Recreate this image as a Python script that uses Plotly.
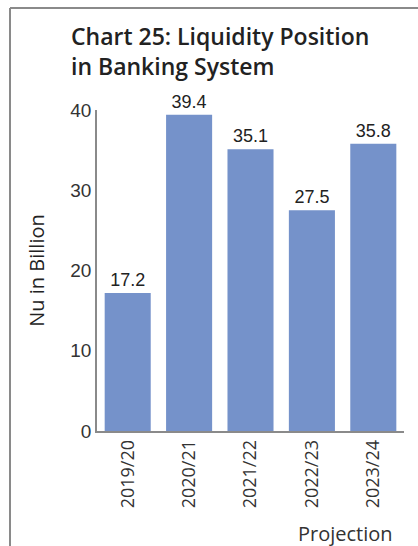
import plotly.graph_objects as go

categories = ["2019/20", "2020/21", "2021/22", "2022/23", "2023/24"]
liquidity = [17.2, 39.4, 35.1, 27.5, 35.8]
value_labels = ["17.2", "39.4", "35.1", "27.5", "35.8"]
y_ticks = [0, 10, 20, 30, 40]

W, H = 418, 546
L, R, T, B = 97, 14, 110, 115
pw, ph = W - L - R, H - T - B

def px_x(x):
    return (x - L) / pw

def px_y(y):
    return (H - B - y) / ph

fig = go.Figure()
fig.add_trace(go.Bar(
    x=categories, y=liquidity,
    text=value_labels, textposition="outside", cliponaxis=False,
    textfont=dict(family="Liberation Sans, Arial", size=18, color="#222222"),
    marker=dict(color="#7592CA", line=dict(width=0)),
    width=0.75,
))

fig.update_layout(
    width=W, height=H,
    margin=dict(l=L, r=R, t=T, b=B),
    paper_bgcolor="white", plot_bgcolor="white",
    showlegend=False,
    title=dict(
        text="Chart 25: Liquidity Position<br>in Banking System",
        x=71 / W, xref="container", xanchor="left",
        y=1 - 45 / H, yref="container", yanchor="top",
        font=dict(family="Open Sans", size=23, weight=600, color="#222222"),
    ),
    xaxis=dict(
        showline=True, linecolor="#8a8a8a", linewidth=1.5,
        tickangle=-90, ticks="", 
        tickfont=dict(family="Open Sans", size=18, color="#333333"),
        showgrid=False,
    ),
    yaxis=dict(
        range=[0, 40], tickvals=y_ticks, showline=True, linecolor="#8a8a8a",
        linewidth=1.5, showgrid=False, zeroline=False, ticks="",
        tickfont=dict(family="Liberation Sans, Arial", size=19, color="#333333"),
        title=dict(text="Nu in Billion", standoff=20,
                   font=dict(family="Open Sans", size=20, color="#222222")),
    ),
)

fig.add_annotation(
    text="Projection", xref="paper", yref="paper",
    x=px_x(345), y=px_y(533), xanchor="center", yanchor="middle",
    showarrow=False, font=dict(family="Open Sans", size=20, color="#333333"),
)

# frame lines
fig.add_shape(type="line", xref="paper", yref="paper",
              x0=px_x(10), x1=px_x(W + 2), y0=px_y(8), y1=px_y(8),
              line=dict(color="#8a8a8a", width=2))
fig.add_shape(type="line", xref="paper", yref="paper",
              x0=px_x(10), x1=px_x(10), y0=px_y(8), y1=px_y(H + 2),
              line=dict(color="#8a8a8a", width=2))

fig.write_html("out.html", config={"displayModeBar": False},
               post_script="document.body.style.margin='0';")
